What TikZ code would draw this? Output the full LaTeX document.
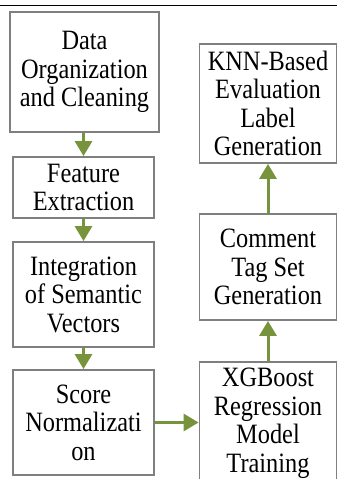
\documentclass[tikz,border=0pt]{standalone}
\usepackage{fontspec}
\setmainfont{LiberationSerif-Regular.ttf}[FakeStretch=0.87]
\usetikzlibrary{arrows.meta}
\definecolor{boxgray}{HTML}{7F7F7F}
\definecolor{olive}{HTML}{77933C}
\begin{document}
\begin{tikzpicture}[x=1pt,y=-1pt,
  stepbox/.style={draw=boxgray,line width=1.8pt,fill=white,rectangle,align=center,
    inner sep=0pt,font=\rmfamily\fontsize{28}{28.5}\selectfont},
  flow/.style={draw=olive,line width=3pt,-{Triangle[length=15pt,width=17pt]}}]
\clip (0,0) rectangle (337,479);
\fill[white] (0,0) rectangle (337,479);
\coordinate (tl) at (0,5);
\coordinate (tr) at (337,5);
\draw[black,line width=1pt] (tl) -- (tr);
\node[stepbox,minimum width=149pt,minimum height=120pt] (A) at (84.5,72) {Data\\Organization\\and Cleaning};
\node[stepbox,minimum width=141pt,minimum height=61pt] (B) at (83.5,187.5) {Feature\\Extraction};
\node[stepbox,minimum width=141pt,minimum height=105pt] (C) at (83.5,294.5) {Integration\\of Semantic\\Vectors};
\node[stepbox,minimum width=141pt,minimum height=105pt] (D) at (83.5,422.5) {Score\\Normalizati\\on};
\node[stepbox,minimum width=137pt,minimum height=122pt] (E) at (268,423) {XGBoost\\Regression\\Model\\Training};
\node[stepbox,minimum width=137pt,minimum height=106pt] (F) at (268,267) {Comment\\Tag Set\\Generation};
\node[stepbox,minimum width=137pt,minimum height=119pt] (G) at (268,103.5) {KNN-Based\\Evaluation\\Label\\Generation};
\draw[flow] (A.south -| B.north) -- (B.north);
\draw[flow] (B.south) -- (C.north);
\draw[flow] (C.south) -- (D.north);
\draw[flow] (D.east) -- (D.east -| E.west);
\draw[flow] (E.north) -- (F.south);
\draw[flow] (F.north) -- (G.south);
\end{tikzpicture}
\end{document}
